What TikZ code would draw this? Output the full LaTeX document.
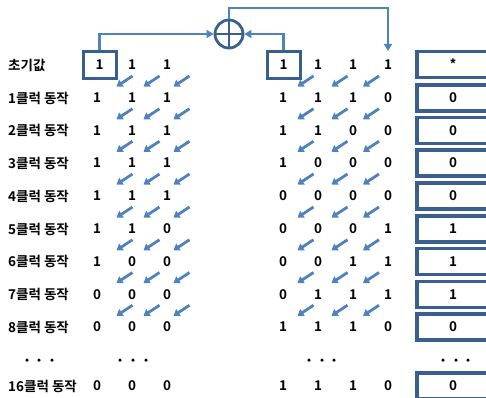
\documentclass[tikz,border=0pt]{standalone}
\usepackage{fontspec}
\newfontfamily\kr{Noto Sans CJK KR}[BoldFont={Noto Sans CJK KR Bold}]
\usetikzlibrary{arrows.meta}
\definecolor{lineblue}{HTML}{4F81BD}
\definecolor{boxblue}{HTML}{3A5F8F}
\begin{document}
\begin{tikzpicture}[x=1pt,y=-1pt,
  txt/.style={font=\kr\bfseries\fontsize{13.5}{15}\selectfont, inner sep=0pt},
  bit/.style={txt},
  lab/.style={txt, anchor=west},
  regbox/.style={draw=boxblue, line width=3pt, minimum width=33pt, minimum height=27pt, inner sep=0pt, txt},
  outbox/.style={draw=boxblue, line width=3.2pt, minimum width=72pt, minimum height=26pt, inner sep=0pt, txt},
  shiftarrow/.style={draw=lineblue, line width=2.8pt, -{Triangle[length=6pt,width=8pt]}},
  feed/.style={draw=lineblue, line width=2.6pt, -{Triangle[length=7pt,width=8pt]}},
  dotmark/.style={circle, fill=black, inner sep=0pt, minimum size=3.5pt}]
\useasboundingbox (0,0) rectangle (486,397);
\clip (0,0) rectangle (486,397);
% row 0
\node[lab] (lab0) at (8,65) {초기값};
\node[regbox] (L0-1) at (99.5,64.5) {1};
\node[bit] (L0-2) at (132,65) {1};
\node[bit] (L0-3) at (167,65) {1};
\node[regbox] (R0-1) at (283.5,64.5) {1};
\node[bit] (R0-2) at (318,65) {1};
\node[bit] (R0-3) at (353,65) {1};
\node[bit] (R0-4) at (388,65) {1};
\node[outbox] (O0) at (453,64.5) {*};
% other rows
\foreach \y/\lab/\a/\b/\c/\d/\e/\f/\g/\o/\n in {
98/1클럭 동작/1/1/1/1/1/1/0/0/1,
130.5/2클럭 동작/1/1/1/1/1/0/0/0/2,
163/3클럭 동작/1/1/1/1/0/0/0/0/3,
196/4클럭 동작/1/1/1/0/0/0/0/0/4,
229/5클럭 동작/1/1/0/0/0/0/1/1/5,
261.5/6클럭 동작/1/0/0/0/0/1/1/1/6,
294.5/7클럭 동작/0/0/0/0/1/1/1/1/7,
327/8클럭 동작/0/0/0/1/1/1/0/0/8,
386/16클럭 동작/0/0/0/1/1/1/0/0/16}{
  \node[lab] (lab\n) at (8,\y) {\lab};
  \node[bit] (L\n-1) at (97,\y) {\a};
  \node[bit] (L\n-2) at (132,\y) {\b};
  \node[bit] (L\n-3) at (167,\y) {\c};
  \node[bit] (R\n-1) at (283,\y) {\d};
  \node[bit] (R\n-2) at (318,\y) {\e};
  \node[bit] (R\n-3) at (353,\y) {\f};
  \node[bit] (R\n-4) at (388,\y) {\g};
  \node[outbox] (O\n) at (453,\y) {\o};
}
% shift arrows
\foreach \ya/\yb in {65/98, 98/130.5, 130.5/163, 163/196, 196/229, 229/261.5, 261.5/294.5, 294.5/327}{
  \foreach \cx in {124.5,151.5,181.5,305.5,339.5,371}{
    \draw[shiftarrow] ({\cx+8},{(\ya+\yb)/2-5.5}) -- ({\cx-8},{(\ya+\yb)/2+5});
  }
}
% dots
\foreach \dx [count=\i] in {27,39,52,120,133,146,309,322,334,443,456,468}{
  \node[dotmark] (dt\i) at (\dx,360) {};
}
% XOR
\node[circle, draw=boxblue, line width=2.8pt, minimum size=28pt, inner sep=0pt] (xor) at (229,34) {};
\draw[boxblue, line width=2.8pt] (xor.north) -- (xor.south) (xor.west) -- (xor.east);
\draw[feed] (L0-1.north) |- (xor.west);
\draw[feed] (R0-1.north) |- (xor.east);
\coordinate (topc) at (229,8);
\draw[feed, shorten >=9pt] (xor.north) -- (topc) -| (R0-4.north);
\end{tikzpicture}
\end{document}
